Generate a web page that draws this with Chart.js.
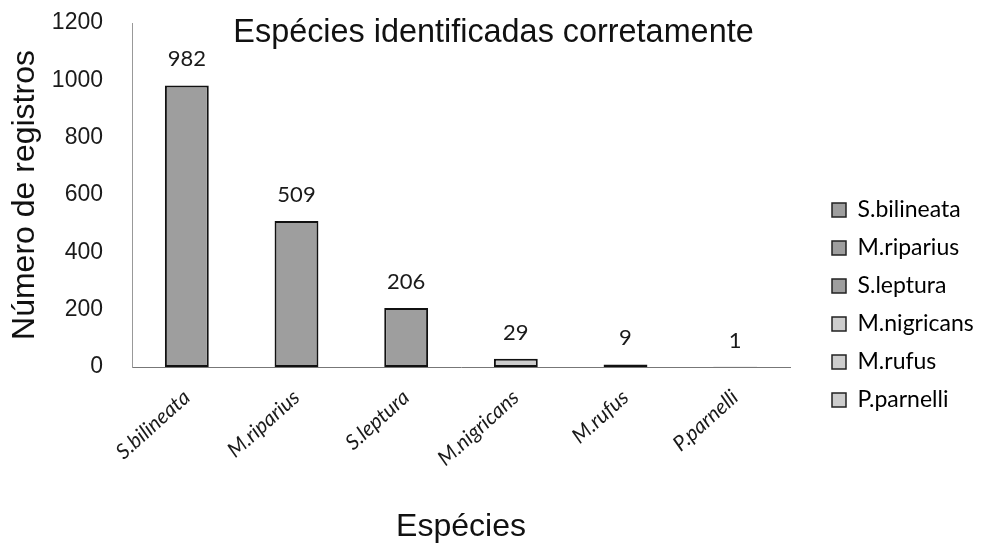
<!DOCTYPE html>
<html>
<head>
<meta charset="utf-8">
<script src="https://cdn.jsdelivr.net/npm/chart.js@4"></script>
<style>
  html, body { margin: 0; padding: 0; background: #fff; }
  #wrap { width: 985px; height: 543px; }
</style>
</head>
<body>
<div id="wrap"><canvas id="c" width="985" height="543"></canvas></div>
<script>
// Species and number of correctly identified records
const species = ['S.bilineata', 'M.riparius', 'S.leptura', 'M.nigricans', 'M.rufus', 'P.parnelli'];
const records = [982, 509, 206, 29, 9, 1];
const barColors = ['#9e9e9e', '#9e9e9e', '#9e9e9e', '#cdcdcd', '#cdcdcd', '#cdcdcd'];
const yTicks = [0, 200, 400, 600, 800, 1000, 1200];

const chartTitle = 'Espécies identificadas corretamente';
const yTitle = 'Número de registros';
const xTitle = 'Espécies';

const sans = "'Liberation Sans', Arial, sans-serif";
const body = "Lato, 'Open Sans', sans-serif";

// Box sizes used to place the plot area
const PAD = { top: 23, right: 0, bottom: 0, left: 0 };
const Y_AXIS_W = 132;     // y axis block incl. title
const X_AXIS_H = 176;     // x axis block incl. rotated labels and title
const LEGEND_W = 195;     // legend column on the right
const LEGEND_SHIFT = { x: 27, y: 22 };

// Value labels above each bar
const valueLabels = {
  id: 'valueLabels',
  afterDatasetsDraw(chart) {
    const ctx = chart.ctx;
    const meta = chart.getDatasetMeta(0);
    ctx.save();
    ctx.font = '22px ' + body;
    ctx.fillStyle = '#1a1a1a';
    ctx.textAlign = 'center';
    ctx.textBaseline = 'alphabetic';
    meta.data.forEach((bar, i) => {
      ctx.fillText(String(records[i]), bar.x, bar.y - 19);
    });
    ctx.restore();
  }
};

// Title drawn over the top of the plot area
const overTitle = {
  id: 'overTitle',
  afterDraw(chart) {
    const ctx = chart.ctx;
    ctx.save();
    ctx.font = '32.4px ' + sans;
    ctx.fillStyle = '#111';
    ctx.textAlign = 'center';
    ctx.textBaseline = 'middle';
    ctx.fillText(chartTitle, chart.width / 2 + 1, chart.chartArea.top + 10);
    ctx.restore();
  }
};

// Fixed-width legend column, with its items nudged right and down
const legendPlacement = {
  id: 'legendPlacement',
  afterInit(chart) {
    const lg = chart.legend;
    if (!lg) return;
    const fit = lg.fit.bind(lg);
    lg.fit = function () { fit(); this.width = LEGEND_W; };
    const draw = lg.draw.bind(lg);
    lg.draw = function () {
      const ctx = this.ctx;
      ctx.save();
      ctx.translate(LEGEND_SHIFT.x, LEGEND_SHIFT.y);
      draw();
      ctx.restore();
    };
  }
};

new Chart(document.getElementById('c'), {
  type: 'bar',
  data: {
    labels: species,
    datasets: [{
      data: records,
      backgroundColor: barColors,
      borderColor: '#111',
      borderWidth: 2,
      borderSkipped: false,
      categoryPercentage: 1,
      barPercentage: 0.4
    }]
  },
  options: {
    responsive: false,
    animation: false,
    layout: { padding: PAD },
    plugins: {
      tooltip: { enabled: false },
      legend: {
        position: 'right',
        align: 'center',
        labels: {
          font: { family: body, size: 23 },
          color: '#1a1a1a',
          boxWidth: 14,
          boxHeight: 14,
          padding: 15,
          generateLabels() {
            return species.map((s, i) => ({
              text: s,
              fillStyle: barColors[i],
              strokeStyle: '#222',
              lineWidth: 1.5,
              hidden: false,
              index: i
            }));
          }
        }
      }
    },
    scales: {
      x: {
        afterFit(axis) {
          axis.height = X_AXIS_H;
          axis.paddingLeft = 0;
          axis.paddingRight = 0;
        },
        grid: { display: false, drawTicks: true, tickLength: 7, color: '#777' },
        border: { display: true, color: '#777', width: 1 },
        ticks: {
          font: { family: body, size: 21, style: 'italic' },
          color: '#1a1a1a',
          minRotation: 42,
          maxRotation: 42,
          padding: 11
        },
        title: {
          display: true,
          text: xTitle,
          font: { family: sans, size: 32 },
          color: '#111',
          padding: { top: 0, bottom: -3 }
        }
      },
      y: {
        min: 0,
        max: 1200,
        afterFit(axis) {
          axis.width = Y_AXIS_W;
          axis.paddingTop = 0;
          axis.paddingBottom = 0;
        },
        afterBuildTicks(axis) { axis.ticks = yTicks.map(v => ({ value: v })); },
        grid: { display: false, drawTicks: true, tickLength: 9, color: '#999' },
        border: { display: true, color: '#999', width: 1 },
        ticks: {
          font: { family: sans, size: 23 },
          color: '#1a1a1a',
          padding: 20,
          callback: v => String(v)
        },
        title: {
          display: true,
          text: yTitle,
          font: { family: sans, size: 32 },
          color: '#111',
          padding: { top: 6, bottom: 0 }
        }
      }
    }
  },
  plugins: [valueLabels, overTitle, legendPlacement]
});
</script>
</body>
</html>
